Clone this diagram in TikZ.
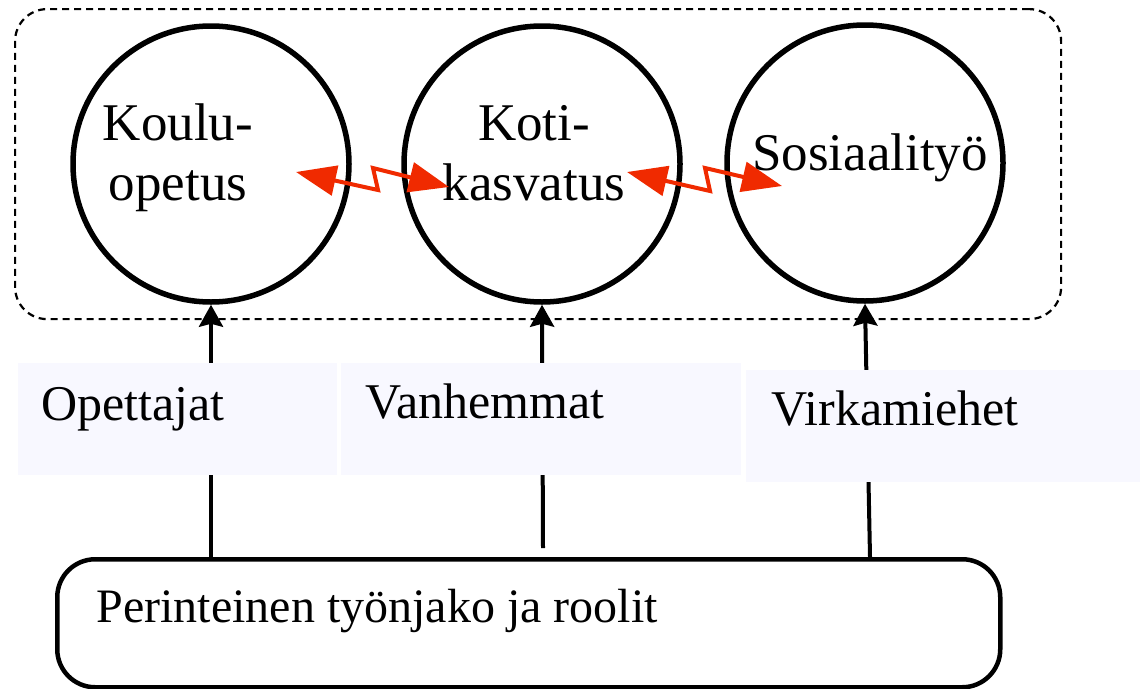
\documentclass[tikz,border=0pt]{standalone}
\usepackage{fontspec}
\setmainfont{Liberation Serif}
\usetikzlibrary{arrows.meta}
\definecolor{zred}{RGB}{240,42,0}
\definecolor{lav}{RGB}{248,248,255}
\begin{document}
\begin{tikzpicture}[x=1pt,y=-1pt,
  circ/.style={circle,draw,line width=5.5pt,minimum size=276pt,inner sep=0pt},
  grp/.style={draw,rounded corners=32pt,line width=2.2pt,dash pattern=on 7pt off 5pt,inner sep=0pt,anchor=north west},
  basebox/.style={draw,rounded corners=38pt,line width=4.5pt,inner sep=0pt,anchor=north west},
  lblbox/.style={fill=lav,inner sep=0pt,anchor=north west},
  ctext/.style={font=\fontsize{53}{60}\selectfont,align=center,anchor=base},
  ltext/.style={font=\fontsize{50}{60}\selectfont,anchor=base west},
  btext/.style={font=\fontsize{48}{58}\selectfont,anchor=base west},
  up/.style={line width=4pt,-{Stealth[length=22pt,width=24pt,inset=3pt]}},
  zz/.style={draw=zred,line width=4pt,>={Triangle[length=40pt,width=30pt]},<->},
]
\useasboundingbox (0,0) rectangle (1140,688);

% group frame and circles
\node[grp,minimum width=1046pt,minimum height=310pt] (grp) at (14,8) {};
\node[circ] (c1) at (211,164) {};
\node[circ] (c2) at (542,164) {};
\node[circ] (c3) at (865,163) {};

% bottom box
\node[basebox,minimum width=943pt,minimum height=128pt] (base) at (55,557) {};

% vertical connectors
\coordinate (b1) at (211,557);
\coordinate (b2) at (543,548);
\coordinate (b3) at (870,557);
\draw[up] (b1) -- (c1.south);
\draw[up] (b2) -- (c2.south);
\draw[up] (b3) -- (c3.south);

% label boxes (over the connectors)
\node[lblbox,minimum width=319pt,minimum height=112pt] (l1) at (18,363) {};
\node[lblbox,minimum width=400pt,minimum height=112pt] (l2) at (341,363) {};
\node[lblbox,minimum width=394pt,minimum height=112pt] (l3) at (746,370) {};
\node[ltext] (t1) at (38,420) {Opettajat};
\node[ltext] (t2) at (362,418) {Vanhemmat};
\node[ltext] (t3) at (768,425) {Virkamiehet};

% circle texts
\node[ctext] (k1) at (178,200) {Koulu-\\opetus};
\node[ctext] (k2) at (534,200) {Koti-\\kasvatus};
\node[ctext] (k3) at (870,170) {Sosiaality\"o};

\node[btext] (bt) at (93,622) {Perinteinen työnjako ja roolit};

% red zigzag arrows
\coordinate (z1s) at (296,172);
\coordinate (z1e) at (449,187);
\coordinate (z2s) at (627,172);
\coordinate (z2e) at (782,186);
\draw[zz] (z1s) -- (378,190) -- (373,168) -- (z1e);
\draw[zz] (z2s) -- (710,191) -- (705,168) -- (z2e);
\end{tikzpicture}
\end{document}
